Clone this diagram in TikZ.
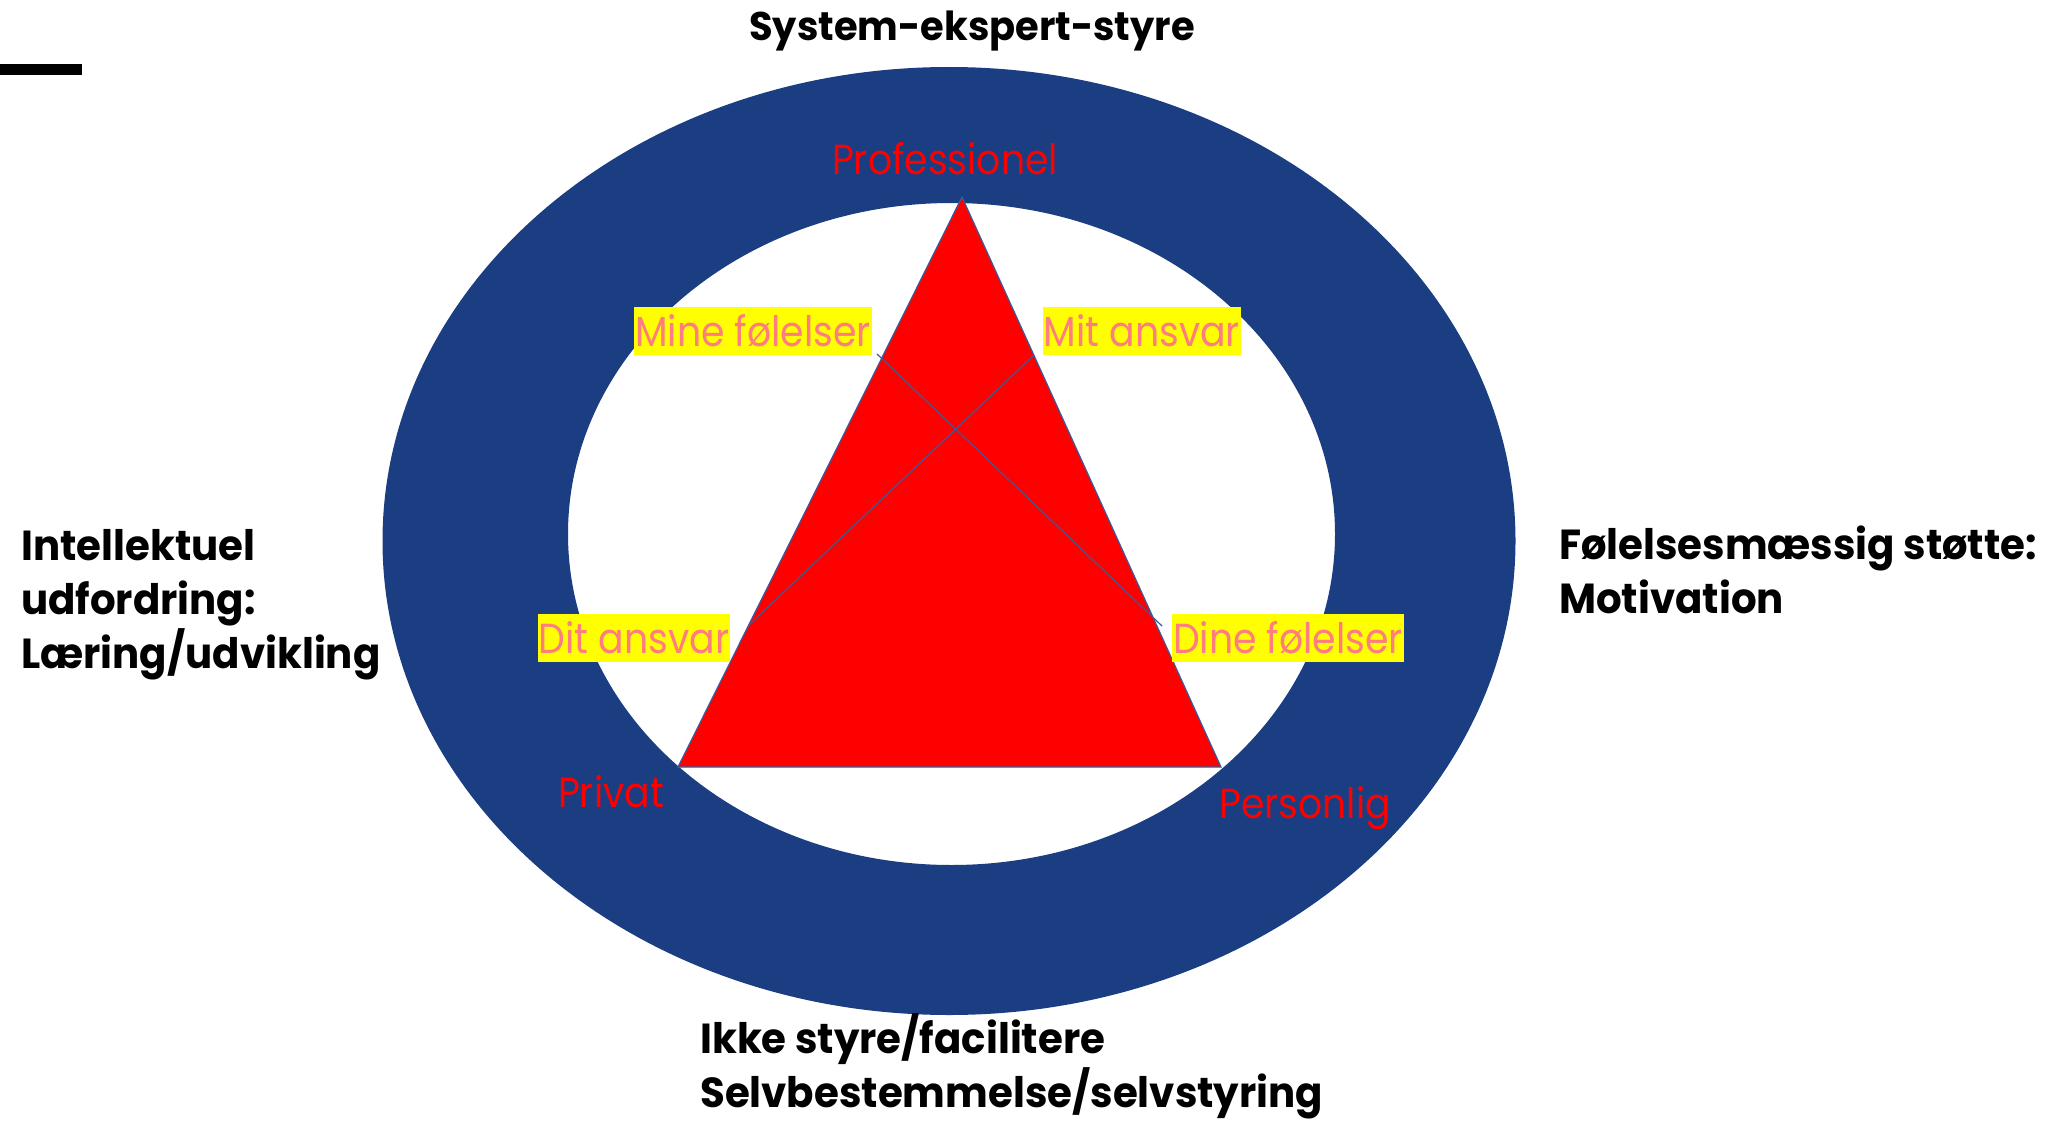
\documentclass[tikz,border=0pt]{standalone}
\usepackage{fontspec}
\setmainfont{Poppins}
\newfontfamily\thinfont[FakeStretch=0.9]{Poppins}
\newfontfamily\headfont[FakeStretch=0.96]{Poppins}
\usetikzlibrary{positioning}
\definecolor{ringblue}{HTML}{1B3E82}
\definecolor{tri}{HTML}{FF0000}
\definecolor{edge}{HTML}{3B5A9A}
\definecolor{hilite}{HTML}{FFFF00}
\definecolor{rose}{HTML}{FF7C80}

\begin{document}
\begin{tikzpicture}[
  x=1pt, y=-1pt,
  head/.style  = {font=\headfont\fontsize{42}{54}\selectfont\bfseries, text=black, align=left,
                  inner sep=0pt, anchor=base west},
  pole/.style  = {font=\thinfont\fontsize{42}{50}\selectfont, text=tri, inner sep=0pt, anchor=base},
  feel/.style  = {fill=hilite, text=rose, font=\thinfont\fontsize{42}{50}\selectfont,
                  inner xsep=1pt, inner ysep=0pt, minimum height=48pt},
  cross/.style = {draw=edge, line width=1.2pt},
]
\useasboundingbox (0,0) rectangle (2059,1121);

% ---------- ring ----------
\fill[black] (0,64) rectangle (82,75);
\fill[ringblue, even odd rule]
  (949,541) ellipse [x radius=566.5, y radius=474]
  (951.5,534) ellipse [x radius=383.5, y radius=331];

% ---------- triangle ----------
\coordinate (apex) at (962,197);
\coordinate (bl)   at (678,767);
\coordinate (br)   at (1221,767);
\filldraw[fill=tri, draw=edge, line width=1.2pt] (apex) -- (bl) -- (br) -- cycle;

\coordinate (mineA) at (877,354);
\coordinate (dineA) at (1162,626);
\coordinate (mitB)  at (1034,355);
\coordinate (ditB)  at (749,625);
\draw[cross] (mineA) -- (dineA);
\draw[cross] (mitB) -- (ditB);

% ---------- corners ----------
\node[pole] (prof) at (945,175) {Professionel};
\node[pole] (priv) at (611,807) {Privat};
\node[pole] (pers) at (1305,818) {Personlig};

\node[feel] (minef) at (753,330.5) {Mine følelser};
\node[feel] (mita)  at (1142,330.5) {Mit ansvar};
\node[feel] (dita)  at (634,638) {Dit ansvar};
\node[feel] (dinef) at (1288,638) {Dine følelser};

% ---------- outer labels ----------
\node[head, anchor=base, font=\headfont\fontsize{40}{54}\selectfont\bfseries] (top) at (972,41)
  {System-ekspert-styre};
\node[head] (left)  at (21,668)   {Intellektuel\\udfordring:\\Læring/udvikling};
\node[head] (right) at (1559,613) {Følelsesmæssig støtte:\\Motivation};
\node[head] (bot)   at (700,1107) {Ikke styre/facilitere\\Selvbestemmelse/selvstyring};

\end{tikzpicture}
\end{document}
